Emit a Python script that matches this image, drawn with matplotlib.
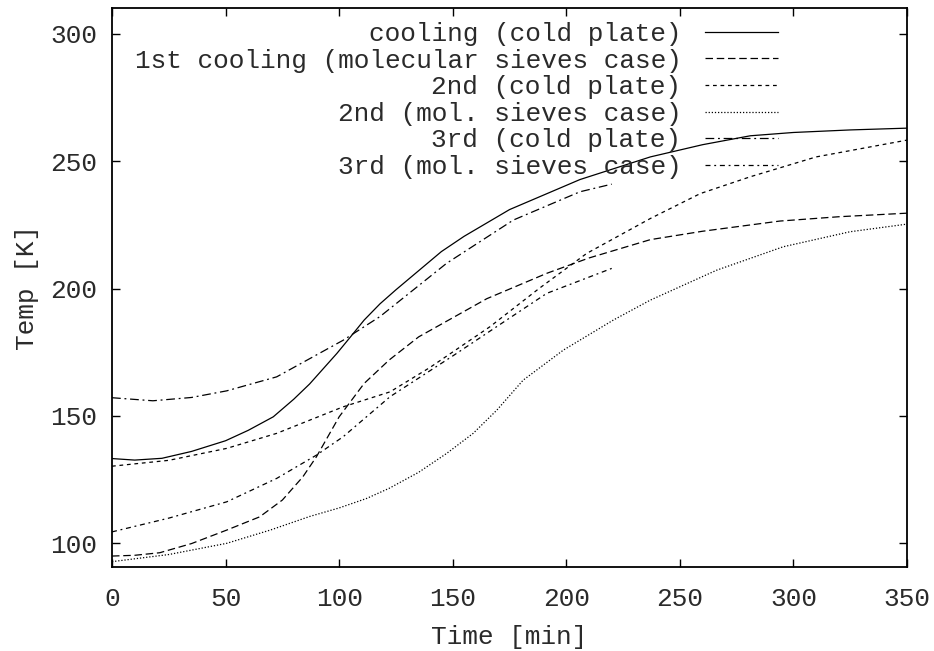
import matplotlib
matplotlib.use("Agg")
import matplotlib.pyplot as plt

# ---- data ----
labels = [
    "cooling (cold plate)",
    "1st cooling (molecular sieves case)",
    "2nd (cold plate)",
    "2nd (mol. sieves case)",
    "3rd (cold plate)",
    "3rd (mol. sieves case)",
]

t1 = [0, 10, 22, 35, 50, 60, 71, 80, 87, 93, 99, 105, 111, 118, 125, 135, 145, 155, 175, 206, 237, 260, 281, 300, 325, 350]
T1 = [133.2, 132.6, 133.3, 136, 140.2, 144.3, 149.6, 156.5, 162.5, 168.5, 174.5, 181, 187.6, 194, 199.5, 207, 214.5, 220.5, 231, 242.8, 251.7, 256.5, 260.0, 261.3, 262.3, 263]

t2 = [0, 10, 21, 35, 50.5, 65, 75, 84, 90, 100, 111, 122, 135, 150, 165, 191.5, 210, 237, 260, 294, 320, 350]
T2 = [94.9, 95.2, 96.2, 99.8, 105.1, 110.3, 116.9, 126, 133.9, 149.6, 162.7, 171.9, 181, 188.5, 196, 206, 212, 219.2, 222.5, 226.5, 228.2, 229.6]

t3 = [0, 25, 50.5, 72.5, 101.7, 122.4, 140, 166.4, 188, 209, 237, 259, 281, 310, 350]
T3 = [130.2, 132.5, 137.2, 143.1, 153.5, 159.4, 169, 185, 200, 213.8, 227.5, 237.3, 243.9, 251.7, 258.3]

t4 = [0, 25, 50.5, 70, 87.2, 100, 112, 122, 135, 147.3, 159, 169.4, 181, 198.7, 220.7, 236.9, 266.2, 295.5, 324.9, 350]
T4 = [92.7, 95.5, 99.9, 105.2, 110.5, 113.8, 117.5, 121.5, 127.8, 135.2, 143.1, 152.2, 164, 175.8, 187.6, 195.4, 207.2, 216.4, 222.3, 225.3]

t5 = [0, 18, 35, 50.5, 72.5, 101.8, 118, 147.3, 176.7, 206, 220]
T5 = [157.1, 155.9, 157.2, 159.8, 165.3, 179.7, 189, 209.9, 226.9, 238, 241]

t6 = [0, 25, 50.5, 72.5, 90.1, 101.8, 122.4, 150, 173.7, 191.4, 220]
T6 = [104.4, 109.8, 116.2, 125.4, 134.6, 141.8, 157.5, 173.5, 187.6, 198.1, 207.9]

xticks = [0, 50, 100, 150, 200, 250, 300, 350]
yticks = [100, 150, 200, 250, 300]

series = [(t1, T1), (t2, T2), (t3, T3), (t4, T4), (t5, T5), (t6, T6)]
dashes = [
    None,
    (6, 3),
    (3, 3),
    (1, 1.5),
    (7, 3, 1.5, 3),
    (4, 3, 1.5, 3),
]

plt.rcParams['font.family'] = ['Liberation Mono', 'DejaVu Sans Mono']
fs = 18.8
tc = '#2a2a2a'

fig = plt.figure(figsize=(9.34, 6.51), dpi=100)
ax = fig.add_axes([112 / 934, 84 / 651, 795 / 934, 559 / 651])

for (t, T), lab, d in zip(series, labels, dashes):
    line, = ax.plot(t, T, color='black', lw=0.9, label=lab)
    if d is not None:
        line.set_dashes(d)

ax.set_xlim(0, 350)
ax.set_ylim(90.6, 310.2)
ax.set_xticks(xticks)
ax.set_yticks(yticks)
ax.tick_params(direction='in', top=True, right=True, length=6, width=1,
               labelsize=fs, color='black', labelcolor=tc)
ax.tick_params(axis='x', pad=14.5)
ax.tick_params(axis='y', pad=10.5)
for s in ax.spines.values():
    s.set_linewidth(1.3)

ax.set_xlabel("Time [min]", fontsize=fs, labelpad=10, color=tc)
ax.set_ylabel("Temp [K]", fontsize=fs, labelpad=8, color=tc)

leg = ax.legend(loc='upper right', bbox_to_anchor=((778 - 112) / 795, 1 - (22 - 8) / 559),
                frameon=False, markerfirst=False, fontsize=fs, borderpad=0,
                labelspacing=0.1, handlelength=2.8, handletextpad=0.9,
                borderaxespad=0)
for txt in leg.get_texts():
    txt.set_color(tc)

fig.savefig("out.png", dpi=100)
